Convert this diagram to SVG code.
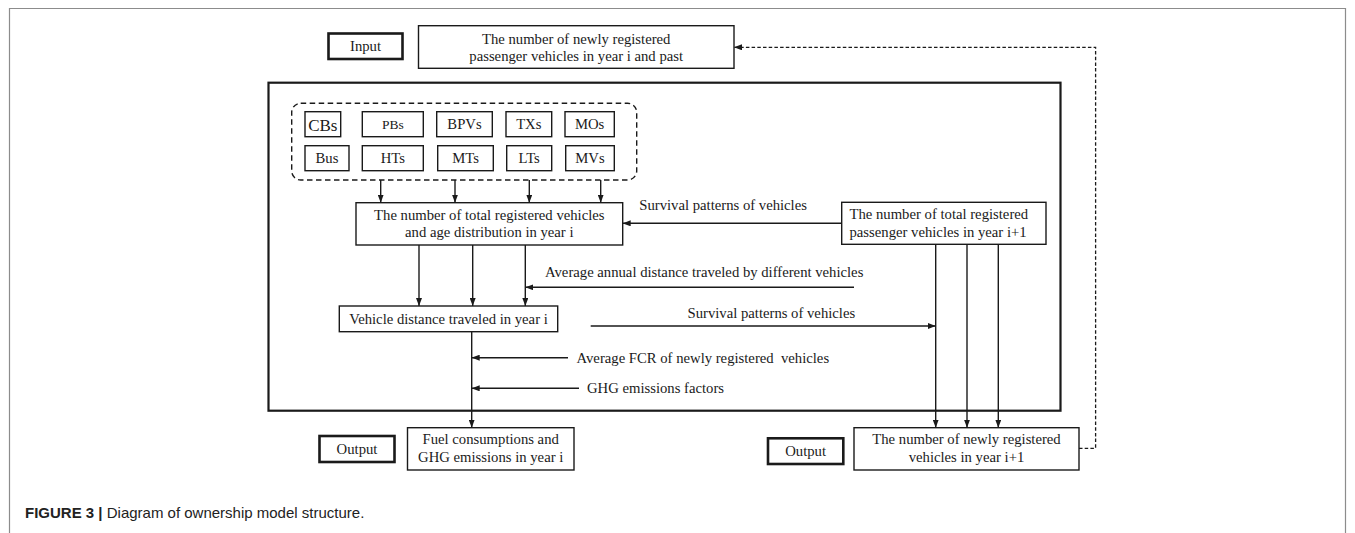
<svg xmlns="http://www.w3.org/2000/svg" width="1355" height="533" viewBox="0 0 1355 533">
<defs>
<marker id="ah" viewBox="0 0 8 6" refX="8" refY="3" markerWidth="8" markerHeight="6" markerUnits="userSpaceOnUse" orient="auto">
<path d="M0,0 L8,3 L0,6 Z" fill="#1a1a1a"/>
</marker>
<style>
.t{font-family:"Liberation Serif","Times New Roman",serif;font-size:14.7px;fill:#1a1a1a}
.c{text-anchor:middle}
.box{fill:#fff;stroke:#1a1a1a;stroke-width:1.4}
.tbox{fill:#fff;stroke:#1a1a1a;stroke-width:2.6}
.ln{fill:none;stroke:#1a1a1a;stroke-width:1.4}
.arr{fill:none;stroke:#1a1a1a;stroke-width:1.4;marker-end:url(#ah)}
.cap{font-family:"Liberation Sans",Arial,sans-serif;font-size:15px;fill:#222}
</style>
</defs>
<rect width="1355" height="533" fill="#fff"/>
<path d="M9.5,540 V8.5 H1345.5 V540" fill="none" stroke="#8c8c8c" stroke-width="1.2"/>

<g id="frame-main">
<rect x="268.5" y="82.7" width="792" height="328" fill="none" stroke="#1a1a1a" stroke-width="2.2"/>
</g>

<g id="input-label">
<rect class="tbox" x="328.5" y="33.5" width="74" height="25.5"/>
<text class="t c" x="365.5" y="51.3">Input</text>
</g>
<g id="input-box">
<rect class="box" x="418.5" y="25.7" width="315.5" height="42.6"/>
<text class="t c" x="576.2" y="43.8">The number of newly registered</text>
<text class="t c" x="576.2" y="61.2">passenger vehicles in year i and past</text>
</g>

<g id="vehicle-types">
<rect x="291.7" y="103.3" width="345" height="76.7" rx="9" fill="none" stroke="#1a1a1a" stroke-width="1.4" stroke-dasharray="5.5,3.5"/>
<g id="CBs"><rect class="box" x="305" y="111.7" width="35.7" height="25"/><text class="t c" x="322.8" y="131" style="font-size:17px">CBs</text></g>
<g id="PBs"><rect class="box" x="362.3" y="111.7" width="61" height="25"/><text class="t c" x="392.8" y="128.5" style="font-size:13.5px">PBs</text></g>
<g id="BPVs"><rect class="box" x="436.7" y="111.7" width="55.6" height="25"/><text class="t c" x="464.5" y="129.3">BPVs</text></g>
<g id="TXs"><rect class="box" x="506" y="111.7" width="45.7" height="25"/><text class="t c" x="528.8" y="129.3">TXs</text></g>
<g id="MOs"><rect class="box" x="565" y="111.7" width="49.3" height="25"/><text class="t c" x="589.6" y="129.3">MOs</text></g>
<g id="Bus"><rect class="box" x="305" y="145.7" width="44" height="25"/><text class="t c" x="327" y="163.3">Bus</text></g>
<g id="HTs"><rect class="box" x="362.3" y="145.7" width="61" height="25"/><text class="t c" x="392.8" y="163.3">HTs</text></g>
<g id="MTs"><rect class="box" x="437.7" y="145.7" width="55.6" height="25"/><text class="t c" x="465.5" y="163.3">MTs</text></g>
<g id="LTs"><rect class="box" x="506.7" y="145.7" width="45" height="25"/><text class="t c" x="529.2" y="163.3">LTs</text></g>
<g id="MVs"><rect class="box" x="565.7" y="145.7" width="48.6" height="25"/><text class="t c" x="590" y="163.3">MVs</text></g>
</g>

<g id="total-registered">
<rect class="box" x="356" y="202.7" width="266.7" height="42.3"/>
<text class="t c" x="489.3" y="219.5">The number of total registered vehicles</text>
<text class="t c" x="489.3" y="236.9">and age distribution in year i</text>
</g>

<g id="total-passenger">
<rect class="box" x="841.7" y="202.3" width="204.3" height="42"/>
<text class="t" x="849.5" y="219">The number of total registered</text>
<text class="t" x="849.5" y="236.5">passenger vehicles in year i+1</text>
</g>

<g id="distance">
<rect class="box" x="339.3" y="306" width="218.4" height="25.7"/>
<text class="t c" x="448.5" y="323.6">Vehicle distance traveled in year i</text>
</g>

<g id="output-left">
<rect class="tbox" x="319.5" y="436" width="75" height="26"/>
<text class="t c" x="357" y="453.8">Output</text>
</g>
<g id="fuel">
<rect class="box" x="407.5" y="427.7" width="166.5" height="42.3"/>
<text class="t c" x="490.7" y="444.2">Fuel consumptions and</text>
<text class="t c" x="490.7" y="461.6">GHG emissions in year i</text>
</g>

<g id="output-right">
<rect class="tbox" x="768" y="438.3" width="75.3" height="25.7"/>
<text class="t c" x="805.6" y="456">Output</text>
</g>
<g id="newly">
<rect class="box" x="854" y="427.7" width="225" height="42.3"/>
<text class="t c" x="966.5" y="444.2">The number of newly registered</text>
<text class="t c" x="966.5" y="461.6">vehicles in year i+1</text>
</g>

<g id="labels">
<text class="t" x="639.3" y="210.3">Survival patterns of vehicles</text>
<text class="t" x="545" y="276.9">Average annual distance traveled by different vehicles</text>
<text class="t" x="687.5" y="317.8">Survival patterns of vehicles</text>
<text class="t" x="576.5" y="362.6" xml:space="preserve">Average FCR of newly registered  vehicles</text>
<text class="t" x="587" y="393.3">GHG emissions factors</text>
</g>

<g id="connectors">
<path class="arr" d="M380.7,180 V202.7"/>
<path class="arr" d="M455,180 V202.7"/>
<path class="arr" d="M529.3,180 V202.7"/>
<path class="arr" d="M600.7,180 V202.7"/>
<path class="arr" d="M841.7,223.3 H622.7"/>
<path class="arr" d="M419,245 V306"/>
<path class="arr" d="M472.7,245 V306"/>
<path class="arr" d="M525.3,245 V306"/>
<path class="arr" d="M854,287.3 H525.3"/>
<path class="arr" d="M590.7,326 H935.7"/>
<path class="arr" d="M471.7,331.7 V427.7"/>
<path class="arr" d="M568,357.7 H471.7"/>
<path class="arr" d="M579,388.3 H471.7"/>
<path class="arr" d="M935.7,244.3 V427.7"/>
<path class="arr" d="M967,244.3 V427.7"/>
<path class="arr" d="M998.3,244.3 V427.7"/>
<path d="M1079,448.3 H1095.6 V47.3 H734" fill="none" stroke="#1a1a1a" stroke-width="1.3" stroke-dasharray="3.5,2.2" marker-end="url(#ah)"/>
</g>

<text class="cap" x="25" y="518"><tspan font-weight="bold">FIGURE 3 |</tspan> Diagram of ownership model structure.</text>
</svg>
